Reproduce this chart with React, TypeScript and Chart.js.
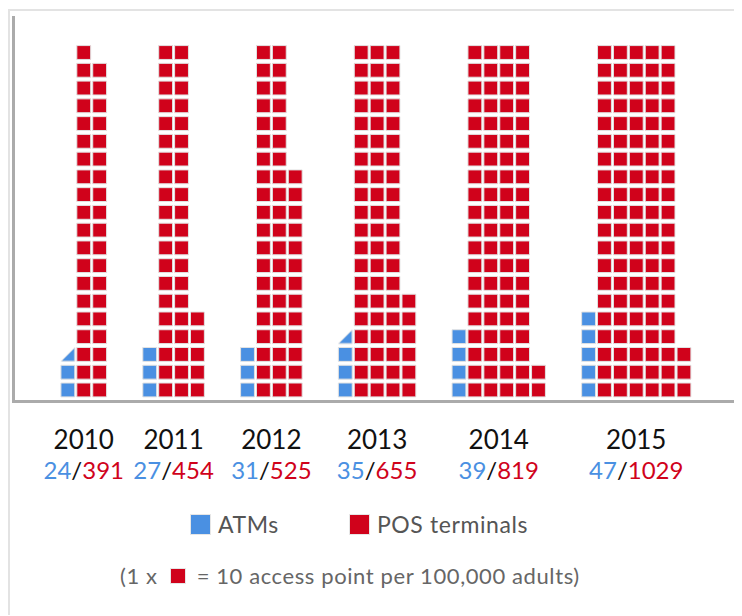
import React, { useEffect, useRef, useState } from "react";
import { Chart, registerables } from "chart.js";

Chart.register(...registerables);

// ---- data ----
const years = ["2010", "2011", "2012", "2013", "2014", "2015"];
const atmValues = [24, 27, 31, 35, 39, 47];
const posValues = [391, 454, 525, 655, 819, 1029];
// ATM icons as drawn in the original (half icon = triangle)
const atmIcons = [2.5, 3, 3, 3.5, 4, 5];
const unitValue = 10; // 1 square = 10 access points
const columnHeight = 20; // squares per column

const BLUE = "#4A90E2";
const RED = "#D0021B";
const EDGE = "#e2e2e2";

// ---- layout in scale units ----
const FIRST_COL = 3.45;
const GROUP_GAP = 2.15;

type Pt = { x: number; y: number };
const atmFull: Pt[] = [];
const atmHalf: Pt[] = [];
const posPts: Pt[] = [];
const groupCenters: number[] = [];
(() => {
  let cursor = FIRST_COL;
  years.forEach((_, i) => {
    const ax = cursor;
    const full = Math.floor(atmIcons[i]);
    for (let r = 0; r < full; r++) atmFull.push({ x: ax, y: r + 0.5 });
    if (atmIcons[i] - full > 0) atmHalf.push({ x: ax, y: full + 0.5 });
    const n = Math.round(posValues[i] / unitValue);
    const cols = Math.ceil(n / columnHeight);
    for (let k = 0; k < n; k++) {
      posPts.push({ x: ax + 1 + Math.floor(k / columnHeight), y: (k % columnHeight) + 0.5 });
    }
    const last = ax + cols;
    groupCenters.push((ax + last) / 2);
    cursor = last + 1 + GROUP_GAP;
  });
})();

if (typeof document !== "undefined") {
  document.documentElement.style.overflow = "hidden";
  document.body.style.overflow = "hidden";
}

const FONT = "Lato, 'Noto Sans', sans-serif";

export default function App() {
  const ref = useRef<HTMLCanvasElement>(null);
  const [labelX, setLabelX] = useState<number[]>([]);

  useEffect(() => {
    const tri = document.createElement("canvas");
    tri.width = 16;
    tri.height = 16;
    const tctx = tri.getContext("2d")!;
    tctx.beginPath();
    tctx.moveTo(1.1, 14.9);
    tctx.lineTo(14.9, 1.1);
    tctx.lineTo(14.9, 14.9);
    tctx.closePath();
    tctx.fillStyle = BLUE;
    tctx.fill();
    tctx.strokeStyle = EDGE;
    tctx.lineWidth = 1;
    tctx.stroke();

    const chart = new Chart(ref.current!, {
      type: "scatter",
      data: {
        datasets: [
          {
            label: "ATMs",
            data: atmFull,
            pointStyle: "rect",
            pointRadius: 9.8,
            backgroundColor: BLUE,
            borderColor: EDGE,
            borderWidth: 1,
          },
          {
            label: "ATMs (partial)",
            data: atmHalf,
            pointStyle: tri as any,
            pointRadius: 9.8,
            backgroundColor: BLUE,
            borderColor: EDGE,
            borderWidth: 1,
          },
          {
            label: "POS terminals",
            data: posPts,
            pointStyle: "rect",
            pointRadius: 9.8,
            backgroundColor: RED,
            borderColor: EDGE,
            borderWidth: 1,
          },
        ],
      },
      options: {
        animation: false,
        responsive: false,
        maintainAspectRatio: false,
        events: [],
        layout: { autoPadding: false, padding: { left: 3, top: 6, right: 0, bottom: 9.5 } },
        plugins: { legend: { display: false }, tooltip: { enabled: false } },
        scales: {
          x: {
            type: "linear",
            min: 0,
            max: 45.85,
            grid: { display: false, drawTicks: false },
            ticks: { display: false },
            border: { display: true, color: "#ababab", width: 3 },
            afterFit: (s: any) => {
              s.height = 0;
            },
          },
          y: {
            type: "linear",
            min: -0.15,
            max: 21.5,
            grid: { display: false, drawTicks: false },
            ticks: { display: false },
            border: { display: true, color: "#ababab", width: 3 },
            afterFit: (s: any) => {
              s.width = 0;
            },
          },
        },
      },
    });
    const xs = chart.scales.x;
    setLabelX(groupCenters.map((c) => xs.getPixelForValue(c)));
    return () => chart.destroy();
  }, []);

  return (
    <div
      style={{
        position: "relative",
        top: 1,
        width: 732,
        height: 605,
        borderTop: "2px solid #e3e3e3",
        borderLeft: "2px solid #e3e3e3",
        fontFamily: FONT,
      }}
    >
      <canvas ref={ref} width={732} height={400} style={{ display: "block" }} />
      {labelX.map((x, i) => (
        <div
          key={years[i]}
          style={{
            position: "absolute",
            left: x - 60,
            width: 120,
            top: 413,
            textAlign: "center",
            whiteSpace: "nowrap",
          }}
        >
          <div style={{ fontSize: 26, color: "#111", lineHeight: "31px" }}>{years[i]}</div>
          <div style={{ fontSize: 24, lineHeight: "29px" }}>
            <span style={{ color: BLUE }}>{atmValues[i]}</span>
            <span style={{ color: "#111" }}>/</span>
            <span style={{ color: RED }}>{posValues[i]}</span>
          </div>
        </div>
      ))}
      <div
        style={{
          position: "absolute",
          left: 180,
          top: 499,
          display: "flex",
          alignItems: "center",
          fontSize: 23,
          letterSpacing: 0.6,
          color: "#555",
          whiteSpace: "nowrap",
        }}
      >
        <span style={{ width: 19, height: 19, background: BLUE, border: "1px solid #e6e6e6", display: "inline-block" }} />
        <span style={{ marginLeft: 7 }}>ATMs</span>
        <span style={{ width: 19, height: 19, background: RED, border: "1px solid #e6e6e6", display: "inline-block", marginLeft: 70 }} />
        <span style={{ marginLeft: 7 }}>POS terminals</span>
      </div>
      <div
        style={{
          position: "absolute",
          left: 110,
          top: 551,
          display: "flex",
          alignItems: "center",
          fontSize: 22,
          letterSpacing: 0.6,
          color: "#666",
          whiteSpace: "nowrap",
        }}
      >
        <span>(1 x</span>
        <span style={{ width: 14, height: 14, background: RED, border: "1px solid #e6e6e6", display: "inline-block", marginLeft: 12, marginRight: 11 }} />
        <span>= 10 access point per 100,000 adults)</span>
      </div>
    </div>
  );
}
